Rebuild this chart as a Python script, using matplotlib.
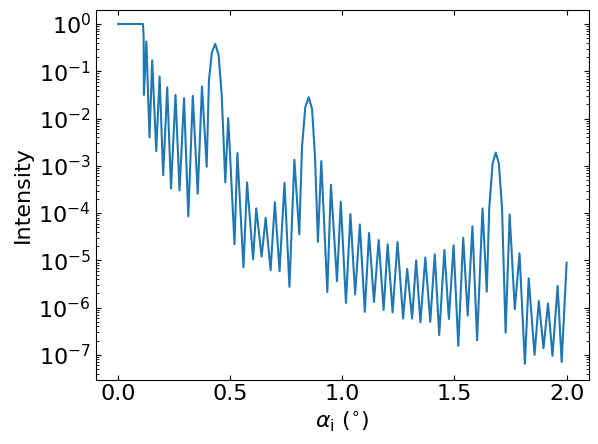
import numpy as np
import matplotlib
matplotlib.use("Agg")
import matplotlib.pyplot as plt

# incidence angle (deg) and log10(intensity) read at curve extrema
alpha = [0.0, 0.111, 0.114, 0.115, 0.126, 0.140, 0.152, 0.170, 0.185, 0.201, 0.219, 0.236, 0.256, 0.274,
         0.294, 0.313, 0.333, 0.355, 0.374, 0.395, 0.405, 0.418, 0.433, 0.448, 0.462, 0.478, 0.491,
         0.519, 0.532, 0.559, 0.575, 0.602, 0.616, 0.640, 0.658, 0.680, 0.699, 0.720, 0.742,
         0.764, 0.786, 0.808, 0.820, 0.835, 0.850, 0.865, 0.878, 0.891, 0.906, 0.933, 0.949,
         0.976, 0.993, 1.016, 1.036, 1.057, 1.078, 1.100, 1.119, 1.141, 1.162, 1.184, 1.202,
         1.224, 1.246, 1.271, 1.289, 1.311, 1.329, 1.348, 1.370, 1.392, 1.412, 1.432, 1.455,
         1.475, 1.496, 1.517, 1.539, 1.559, 1.580, 1.601, 1.625, 1.644, 1.655, 1.670, 1.684,
         1.698, 1.712, 1.728, 1.746, 1.769, 1.790, 1.814, 1.831, 1.857, 1.876, 1.897, 1.917,
         1.937, 1.960, 1.978, 2.000]
log_int = [0.0, 0.0, -0.3, -1.5, -0.37, -2.4, -0.77, -2.69, -1.11, -3.2, -1.34, -3.48, -1.5, -3.52,
           -1.57, -4.07, -1.52, -3.59, -1.32, -3.02, -1.2, -0.6, -0.42, -0.65, -1.5, -3.35, -1.99,
           -4.66, -2.73, -5.15, -3.35, -4.98, -3.90, -4.92, -4.10, -5.21, -3.77, -5.23, -3.36,
           -5.56, -2.87, -4.45, -2.6, -1.75, -1.55, -1.8, -2.8, -4.61, -2.90, -5.67, -3.40,
           -5.44, -3.76, -5.9, -4.02, -5.72, -4.24, -6.09, -4.42, -5.88, -4.57, -6.05, -4.66,
           -6.10, -4.61, -6.23, -5.18, -6.23, -5.00, -6.31, -4.94, -6.30, -4.87, -6.58, -4.78,
           -6.24, -4.68, -6.81, -4.52, -6.17, -4.28, -6.69, -3.90, -5.66, -3.9, -2.95, -2.72,
           -2.95, -3.9, -6.53, -4.03, -6.03, -4.85, -7.19, -5.38, -7.00, -5.86, -6.86, -5.91,
           -7.02, -5.54, -7.15, -5.05]

fig, ax = plt.subplots(figsize=(5.98, 4.44), dpi=100)
ax.plot(alpha, 10.0 ** np.array(log_int), color="#1f77b4", lw=1.5)
ax.set_yscale("log")
ax.set_xlim(-0.1, 2.1)
ax.set_ylim(3e-8, 2.0)
ax.set_xticks([0.0, 0.5, 1.0, 1.5, 2.0])
ax.tick_params(which="both", direction="in", right=True, top=True, labelsize=16)
ax.set_xlabel(r"$\alpha_{\mathrm{i}}$ ($^{\circ}$)", fontsize=16)
ax.set_ylabel("Intensity", fontsize=16)
fig.subplots_adjust(left=0.16, right=0.985, top=0.978, bottom=0.145)
fig.savefig("out.png", dpi=100)
